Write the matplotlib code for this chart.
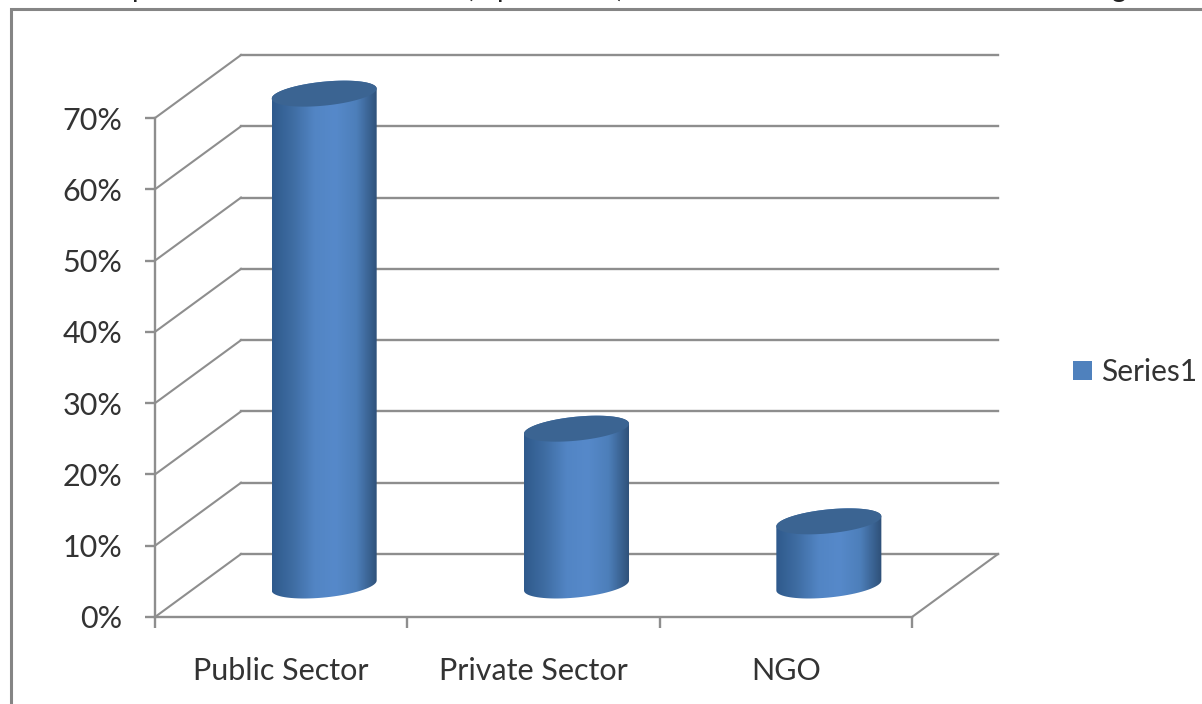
import numpy as np
import matplotlib
matplotlib.use('Agg')
import matplotlib.pyplot as plt
from matplotlib.colors import LinearSegmentedColormap
from matplotlib.patches import Patch, PathPatch, Rectangle
from matplotlib.path import Path

categories = ['Public Sector', 'Private Sector', 'NGO']
values = [69, 22, 9]
y_ticks = [0, 10, 20, 30, 40, 50, 60, 70]
series_name = 'Series1'
# bottom of the caption line above the chart, cut off by the picture edge
caption_bits = [('p', 140), ('(', 469), ('p', 505), (')', 620), ('g', 1118)]

W, H = 1202, 704
GREY = '#8e8e8e'
BLUE = '#4f81bd'
TOP_BLUE = '#3b6492'
TEXT = '#333333'

# one category = 252.3 px, one percent = 7.13 px
PX_X = 1 / 252.3
PX_Y = 1 / 7.13
DEPTH_X = 86 * PX_X
DEPTH_Y = 63 * PX_Y

plt.rcParams['font.family'] = ['Lato', 'DejaVu Sans']
side_cmap = LinearSegmentedColormap.from_list(
    'side', ['#2f5a8c', '#3f6da3', '#5285c4', '#5689ca', '#4d7fba', '#2e5078'])


def ellipse(cx, cy, t):
    x = cx + 52.5 * PX_X * np.cos(t)
    y = cy + (12 * np.sin(t) + 5 * np.cos(t)) * PX_Y
    return x, y


def draw_cylinder(ax, cx, base, top):
    t_low = np.linspace(np.pi, 2 * np.pi, 40)
    t_up = np.linspace(0, np.pi, 40)
    bx, by = ellipse(cx, base, t_low)
    tx, ty = ellipse(cx, top, t_up)
    side = PathPatch(Path(np.column_stack([np.r_[bx, tx], np.r_[by, ty]])),
                     fc='none', ec='none', transform=ax.transData, clip_on=False)
    ax.add_patch(side)
    grad = np.linspace(0, 1, 200).reshape(1, -1)
    img = ax.imshow(grad, cmap=side_cmap, aspect='auto', zorder=3,
                    extent=[cx - 52.5 * PX_X, cx + 52.5 * PX_X, base - 14 * PX_Y, top + 14 * PX_Y])
    img.set_clip_box(fig.bbox)
    img.set_clip_path(side)
    t = np.linspace(0, 2 * np.pi, 80)
    ex, ey = ellipse(cx, top, t)
    ax.fill(ex, ey, color=TOP_BLUE, lw=0, zorder=4, clip_on=False)


fig = plt.figure(figsize=(W / 100, H / 100), dpi=100)
ax = fig.add_axes([155 / W, 1 - 617 / H, 757 / W, 499 / H])

# back wall and side wall lines
for v in y_ticks:
    ax.plot([0, DEPTH_X], [v, v + DEPTH_Y], color=GREY, lw=1.5, clip_on=False, zorder=1)
    ax.plot([DEPTH_X, 3 + DEPTH_X], [v + DEPTH_Y, v + DEPTH_Y], color=GREY, lw=1.7,
            clip_on=False, zorder=1)
ax.plot([3, 3 + DEPTH_X], [0, DEPTH_Y], color=GREY, lw=1.5, clip_on=False, zorder=1)

for i, val in enumerate(values):
    cx = i + 0.5 + DEPTH_X / 2
    draw_cylinder(ax, cx, DEPTH_Y / 2, DEPTH_Y / 2 + val)

ax.set_xlim(0, 3)
ax.set_ylim(0, 70)
ax.patch.set_alpha(0)
for s in ['top', 'right']:
    ax.spines[s].set_visible(False)
for s in ['left', 'bottom']:
    ax.spines[s].set_color(GREY)
    ax.spines[s].set_linewidth(1.7)

ax.set_yticks(y_ticks)
ax.set_yticklabels([f'{v}%' for v in y_ticks], fontsize=22, color=TEXT)
ax.tick_params(axis='y', length=7.5, width=1.7, color=GREY, pad=16)
ax.set_xticks([0, 1, 2, 3])
ax.set_xticklabels([])
ax.tick_params(axis='x', length=8, width=1.7, color=GREY)
ax.set_xticks([0.5, 1.5, 2.5], minor=True)
ax.set_xticklabels(categories, minor=True, fontsize=22, color=TEXT)
ax.tick_params(axis='x', which='minor', length=0, pad=29)

handle = Patch(fc=BLUE, ec='none', label=series_name)
fig.legend(handles=[handle], loc='center left', bbox_to_anchor=(1073 / W, 1 - 372 / H),
           frameon=False, fontsize=21.5, handlelength=0.65, handleheight=0.65,
           handletextpad=0.3, borderpad=0, borderaxespad=0, labelcolor=TEXT)

# outer chart frame, cut off by the picture on the right and at the bottom
fig.add_artist(Rectangle((11 / W, -0.1), 1.2, 1.1 - 9 / H, transform=fig.transFigure,
                         fill=False, ec='#858585', lw=2.2))

for s, x in caption_bits:
    fig.text(x / W, 1 + 3 / H, s, fontsize=20, color='#222222', ha='center', va='baseline')

fig.savefig('out.png', dpi=100)
